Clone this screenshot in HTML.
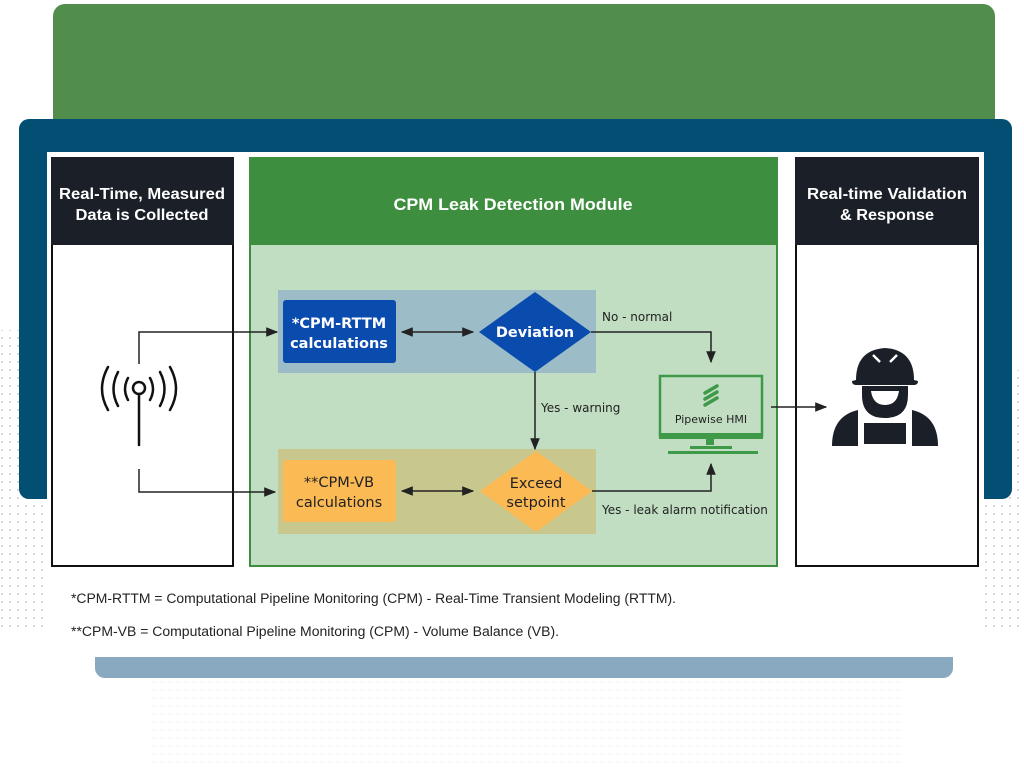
<!DOCTYPE html>
<html><head><meta charset="utf-8"><style>
html,body{margin:0;padding:0;width:1024px;height:782px;overflow:hidden;background:#fff;}
svg{display:block;font-family:"DejaVu Sans","Liberation Sans",sans-serif;}
</style></head><body>
<svg width="1024" height="782" viewBox="0 0 1024 782" xmlns="http://www.w3.org/2000/svg">
<defs>
<pattern id="dots" width="8" height="8" patternUnits="userSpaceOnUse"><circle cx="2" cy="2" r="1" fill="#9a9a9a"/></pattern>
<marker id="ah" viewBox="0 0 10 10" refX="9" refY="5" markerWidth="8" markerHeight="8" orient="auto-start-reverse"><path d="M0,1 L10,5 L0,9 z" fill="#222"/></marker>
</defs>
<rect width="1024" height="782" fill="#fff"/>
<rect x="0" y="330" width="50" height="300" fill="url(#dots)" opacity="0.5"/>
<rect x="984" y="370" width="40" height="260" fill="url(#dots)" opacity="0.5"/>
<rect x="150" y="680" width="750" height="90" fill="url(#dots)" opacity="0.12"/>
<rect x="53" y="4" width="942" height="140" rx="12" fill="#528e4b"/>
<rect x="19" y="119" width="993" height="380" rx="10" fill="#034f74"/>
<rect x="95" y="640" width="858" height="38" rx="10" fill="#88a9c0"/>
<rect x="47" y="152" width="937" height="505" fill="#fff"/>
<rect x="52" y="158" width="181" height="408" fill="#fff" stroke="#111" stroke-width="2"/>
<rect x="51" y="157" width="183" height="88" fill="#1b2028"/>
<rect x="796" y="158" width="182" height="408" fill="#fff" stroke="#111" stroke-width="2"/>
<rect x="795" y="157" width="184" height="88" fill="#1b2028"/>
<rect x="250" y="158" width="527" height="408" fill="#c1dec2" stroke="#3e8e3f" stroke-width="2"/>
<rect x="249" y="157" width="529" height="88" fill="#3e8e3f"/>
<g font-size="15.5" font-weight="bold" fill="#fff" text-anchor="middle" font-family="Liberation Sans, sans-serif">
<text x="142" y="199" textLength="166" lengthAdjust="spacingAndGlyphs">Real-Time, Measured</text>
<text x="142" y="220" textLength="133" lengthAdjust="spacingAndGlyphs">Data is Collected</text>
<text x="887" y="199" textLength="160" lengthAdjust="spacingAndGlyphs">Real-time Validation</text>
<text x="887" y="220" textLength="94" lengthAdjust="spacingAndGlyphs">&amp; Response</text>
<text x="513" y="210" font-size="17" textLength="239" lengthAdjust="spacingAndGlyphs">CPM Leak Detection Module</text>
</g>
<rect x="278" y="290" width="318" height="83" fill="#9cbcc8"/>
<rect x="278" y="449" width="318" height="85" fill="#c8c78e"/>
<rect x="283" y="300" width="113" height="63" rx="3" fill="#0a4bae"/>
<text x="339" y="328" fill="#fff" font-size="14.5" font-weight="bold" text-anchor="middle">*CPM-RTTM</text>
<text x="339" y="348" fill="#fff" font-size="14.5" font-weight="bold" text-anchor="middle">calculations</text>
<rect x="283" y="460" width="113" height="62" rx="3" fill="#fcba55"/>
<text x="339" y="487" fill="#222" font-size="14.5" text-anchor="middle">**CPM-VB</text>
<text x="339" y="507" fill="#222" font-size="14.5" text-anchor="middle">calculations</text>
<polygon points="535,292 591,332 535,372 479,332" fill="#0a4bae"/>
<text x="535" y="337" fill="#fff" font-size="14.5" font-weight="bold" text-anchor="middle">Deviation</text>
<polygon points="536,451 592,491 536,532 480,491" fill="#fcba55"/>
<text x="536" y="488" fill="#222" font-size="14.5" text-anchor="middle">Exceed</text>
<text x="536" y="507" fill="#222" font-size="14.5" text-anchor="middle">setpoint</text>
<g stroke="#222" stroke-width="1.5" fill="none">
<line x1="402" y1="332" x2="473" y2="332" marker-start="url(#ah)" marker-end="url(#ah)"/>
<line x1="402" y1="491" x2="473" y2="491" marker-start="url(#ah)" marker-end="url(#ah)"/>
<path d="M139,364 V332 H277" marker-end="url(#ah)"/>
<path d="M139,469 V492 H275" marker-end="url(#ah)"/>
<path d="M535,372 V449" marker-end="url(#ah)"/>
<path d="M591,332 H711 V362" marker-end="url(#ah)"/>
<path d="M592,491 H711 V464" marker-end="url(#ah)"/>
<path d="M771,407 H826" marker-end="url(#ah)"/>
</g>
<g font-size="12" fill="#222">
<text x="602" y="321">No - normal</text>
<text x="541" y="412">Yes - warning</text>
<text x="602" y="514">Yes - leak alarm notification</text>
</g>
<rect x="660" y="376" width="102" height="60" fill="none" stroke="#3e9a48" stroke-width="2.5"/>
<rect x="659" y="433" width="104" height="6" fill="#3e9a48"/>
<rect x="706" y="439" width="8" height="6" fill="#3e9a48"/>
<rect x="668" y="451" width="90" height="3" fill="#3e9a48"/>
<rect x="690" y="446" width="42" height="3" fill="#3e9a48"/>
<g stroke="#3e9a48" stroke-width="3.5" stroke-linecap="round">
<line x1="705" y1="393" x2="717" y2="386"/><line x1="705" y1="399" x2="717" y2="392"/><line x1="705" y1="405" x2="717" y2="398"/>
</g>
<text x="711" y="423" font-size="11" fill="#222" text-anchor="middle">Pipewise HMI</text>
<g stroke="#111" stroke-width="2.5" fill="none" stroke-linecap="round">
<circle cx="139" cy="388" r="6"/>
<line x1="139" y1="394" x2="139" y2="445"/>
<path d="M128,378 Q122,389 128,400"/><path d="M150,378 Q156,389 150,400"/>
<path d="M118,372 Q109,389 118,406"/><path d="M160,372 Q169,389 160,406"/>
<path d="M108,367 Q96,389 108,410"/><path d="M170,367 Q182,389 170,410"/>
</g>
<g fill="#1b2028">
<path d="M856,380 Q856,350 885,348 Q914,350 914,380 L918,381 Q918,385 914,385 L856,385 Q852,385 852,381 Z"/>
<path d="M862,386 H908 V395 Q908,418 885,418 Q862,418 862,395 Z"/>
<path d="M832,446 Q832,416 858,410 V446 Z"/>
<path d="M938,446 Q938,416 912,410 V446 Z"/>
<rect x="864" y="423" width="42" height="21"/>
</g>
<path d="M871,391 H899 Q897,405 885,405 Q873,405 871,391 Z" fill="#fff"/>
<path d="M873,355 L880,362 M897,355 L890,362" stroke="#fff" stroke-width="2.5"/>
<g font-size="13.5" fill="#222" font-family="Liberation Sans, sans-serif">
<text x="71" y="603" textLength="605" lengthAdjust="spacingAndGlyphs">*CPM-RTTM = Computational Pipeline Monitoring (CPM) - Real-Time Transient Modeling (RTTM).</text>
<text x="71" y="636" textLength="488" lengthAdjust="spacingAndGlyphs">**CPM-VB = Computational Pipeline Monitoring (CPM) - Volume Balance (VB).</text>
</g>
</svg>
</body></html>
